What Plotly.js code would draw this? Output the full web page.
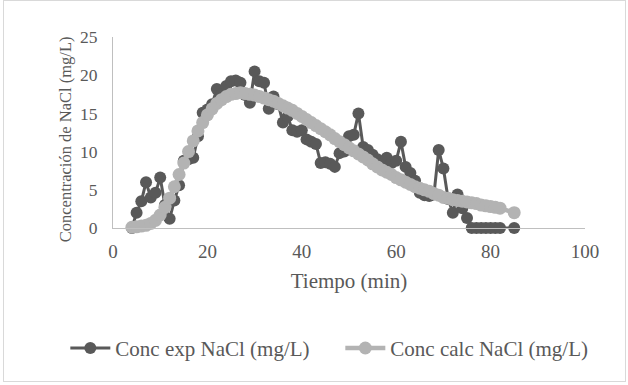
<!DOCTYPE html>
<html>
<head>
<meta charset="utf-8">
<script src="https://cdn.plot.ly/plotly-3.0.1.min.js"></script>
<style>
html,body{margin:0;padding:0;background:#fff;}
#wrap{position:relative;width:628px;height:385px;}
#chart{width:628px;height:385px;}
#frame{position:absolute;left:3px;top:0px;width:623px;height:382px;border:1px solid #d9d9d9;pointer-events:none;box-sizing:border-box;}
</style>
</head>
<body>
<div id="wrap"><div id="chart"></div><div id="frame"></div></div>
<script>
// Time (min)
const tiempo = [4,5,6,7,8,9,10,11,12,13,14,15,16,17,18,19,20,21,22,23,24,25,26,27,28,29,30,31,32,33,34,35,36,37,38,39,40,41,42,43,44,45,46,47,48,49,50,51,52,53,54,55,56,57,58,59,60,61,62,63,64,65,66,67,68,69,70,71,72,73,74,75,76,77,78,79,80,81,82,85];
// Experimental concentration (mg/L)
const concExp = [0.0,2.0,3.5,6.0,4.0,4.6,6.6,3.0,1.2,3.6,5.6,8.8,9.0,9.2,12.0,15.1,15.5,16.2,18.2,17.5,18.6,19.2,19.3,19.0,17.4,16.4,20.5,19.2,19.0,15.6,17.2,16.2,13.8,14.6,12.8,12.6,12.8,11.6,11.3,11.0,8.5,8.6,8.4,8.0,9.8,10.0,12.0,12.2,15.0,10.6,10.2,9.6,9.0,8.4,9.2,8.5,8.8,11.3,8.0,7.2,6.2,4.6,4.3,4.2,4.4,10.2,7.8,3.8,2.0,4.4,2.6,1.3,0,0,0,0,0,0,0,0];
// Calculated concentration (mg/L)
const concCalc = [0.1,0.15,0.25,0.35,0.6,1.0,1.7,2.7,3.9,5.4,7.0,8.5,10.0,11.4,12.7,13.8,14.8,15.6,16.3,16.8,17.2,17.5,17.6,17.7,17.6,17.5,17.4,17.2,17.0,16.8,16.6,16.3,16.0,15.7,15.4,15.0,14.6,14.2,13.8,13.4,13.0,12.6,12.2,11.7,11.3,10.9,10.5,10.1,9.7,9.3,8.9,8.4,8.0,7.6,7.3,7.0,6.6,6.3,6.0,5.7,5.4,5.2,5.0,4.8,4.5,4.3,4.0,3.9,3.7,3.6,3.5,3.4,3.3,3.2,3.0,2.9,2.8,2.7,2.6,2.0];
const nombres = ["Conc exp NaCl (mg/L)", "Conc calc NaCl (mg/L)"];
const xTicks = [0,20,40,60,80,100];
const yTicks = [0,5,10,15,20,25];
const xTitulo = "Tiempo (min)";
const yTitulo = "Concentración de NaCl (mg/L)";

const serif = "Liberation Serif, Times New Roman, serif";
const txt = "#595959";

const data = [
  {x: tiempo, y: concExp, name: nombres[0], type: "scatter", mode: "lines+markers",
   line: {color: "#595959", width: 3}, marker: {color: "#595959", size: 12}, cliponaxis: false},
  {x: tiempo, y: concCalc, name: nombres[1], type: "scatter", mode: "lines+markers",
   line: {color: "#b3b3b3", width: 4.5}, marker: {color: "#b3b3b3", size: 13}, cliponaxis: false}
];

const layout = {
  width: 628, height: 385,
  margin: {l: 113, r: 43, t: 37, b: 157},
  paper_bgcolor: "rgba(0,0,0,0)", plot_bgcolor: "rgba(0,0,0,0)",
  font: {family: serif, color: txt, size: 20},
  showlegend: true,
  xaxis: {range: [0, 100], tickvals: xTicks, ticktext: xTicks.map(String),
    showgrid: false, zeroline: false, showline: true, linecolor: "#bfbfbf", linewidth: 1,
    ticks: "outside", ticklen: 6, tickcolor: "rgba(0,0,0,0)",
    tickfont: {family: serif, size: 19, color: txt},
    title: {text: xTitulo, font: {family: serif, size: 21, color: txt}, standoff: 12}},
  yaxis: {range: [0, 25], tickvals: yTicks, ticktext: yTicks.map(String),
    showgrid: false, zeroline: false, showline: true, linecolor: "#bfbfbf", linewidth: 1,
    ticks: "outside", ticklen: 11, tickcolor: "rgba(0,0,0,0)",
    tickfont: {family: serif, size: 17.5, color: txt}},
  annotations: [{text: yTitulo, textangle: -90, xref: "paper", yref: "paper",
    x: -0.099, y: 0.466, xanchor: "center", yanchor: "middle", showarrow: false,
    font: {family: serif, size: 16.5, color: txt}}],
  legend: {orientation: "h", x: -0.101, xanchor: "left", y: -0.63, yanchor: "middle",
    font: {family: serif, size: 21, color: txt}, itemwidth: 40, entrywidth: 220, entrywidthmode: "pixels",
    bgcolor: "rgba(0,0,0,0)"}
};

Plotly.newPlot("chart", data, layout, {displayModeBar: false, staticPlot: true});
</script>
</body>
</html>
